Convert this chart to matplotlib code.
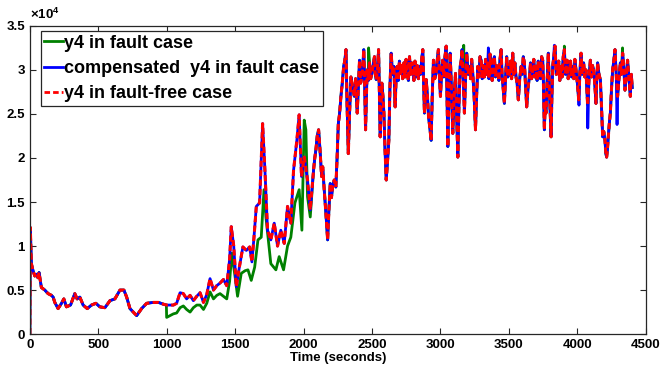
import numpy as np
import matplotlib
matplotlib.use('Agg')
import matplotlib.pyplot as plt
from matplotlib.ticker import FuncFormatter, MultipleLocator

plt.rcParams['font.family'] = ['Liberation Sans', 'DejaVu Sans']
plt.rcParams['font.weight'] = 'bold'
plt.rcParams['mathtext.fontset'] = 'custom'
plt.rcParams['mathtext.rm'] = 'Liberation Sans:bold'
plt.rcParams['mathtext.it'] = 'Liberation Sans:bold'
plt.rcParams['mathtext.bf'] = 'Liberation Sans:bold'

# values, y in units of 1e4
# start part, all three series equal (0 - 1000 s)
t_start = [1, 4, 12, 24, 37, 49, 60, 68, 85, 110, 134, 159, 171, 183, 207, 232, 249,
           268, 298, 329, 346, 366, 390, 420, 451, 483, 512, 549, 586, 622, 659, 688,
           708, 732, 781, 817, 854, 903, 940, 976, 998]
y_start = [0.0, 1.21, 0.80, 0.72, 0.66, 0.68, 0.64, 0.70, 0.53, 0.50, 0.46, 0.44, 0.42,
           0.36, 0.29, 0.35, 0.40, 0.31, 0.33, 0.46, 0.40, 0.42, 0.33, 0.29, 0.33, 0.35,
           0.31, 0.30, 0.38, 0.40, 0.50, 0.50, 0.42, 0.29, 0.21, 0.29, 0.35, 0.36, 0.36,
           0.34, 0.33]

# fault-free case, 1000 - 2060 s
t_ff_mid = [1000, 1025, 1049, 1073, 1098, 1122, 1146, 1171, 1195, 1220, 1244, 1269, 1293,
            1317, 1342, 1366, 1390, 1415, 1439, 1460, 1472, 1490, 1509, 1530, 1557, 1582,
            1606, 1623, 1638, 1655, 1679, 1701, 1718, 1737, 1761, 1786, 1810, 1834, 1859,
            1883, 1907, 1927, 1951, 1968, 1985, 2005, 2029, 2049]
y_ff_mid = [0.33, 0.33, 0.33, 0.35, 0.47, 0.46, 0.40, 0.44, 0.38, 0.43, 0.47, 0.36, 0.45,
            0.63, 0.50, 0.55, 0.58, 0.62, 0.55, 0.85, 1.22, 1.00, 0.54, 0.75, 0.99, 0.95,
            0.99, 0.82, 1.10, 1.45, 1.49, 2.39, 1.86, 1.18, 1.07, 1.26, 1.00, 1.18, 1.03,
            1.45, 1.26, 1.86, 2.20, 2.49, 1.79, 2.01, 1.75, 1.41]

# fault case, 1000 - 2060 s
t_fault_mid = [1000, 1025, 1049, 1073, 1098, 1122, 1146, 1171, 1195, 1220, 1244, 1269, 1293,
               1317, 1342, 1366, 1390, 1415, 1439, 1460, 1476, 1500, 1518, 1545, 1573, 1594,
               1618, 1643, 1667, 1691, 1711, 1725, 1761, 1798, 1822, 1854, 1883, 1907, 1937,
               1968, 1988, 2005, 2017, 2029, 2049]
y_fault_mid = [0.19, 0.21, 0.23, 0.24, 0.30, 0.32, 0.28, 0.25, 0.30, 0.33, 0.33, 0.28, 0.35,
               0.48, 0.40, 0.44, 0.46, 0.43, 0.40, 0.60, 0.92, 0.65, 0.43, 0.69, 0.72, 0.73,
               0.61, 0.76, 1.07, 1.10, 1.64, 1.33, 0.80, 0.73, 0.88, 0.73, 1.00, 1.10, 1.49,
               1.64, 1.18, 2.43, 2.32, 1.56, 1.33]

# end part, all three series nearly equal (2060 - 4400 s)
t_end = [2073, 2082, 2090, 2100, 2110, 2120, 2132, 2140, 2151, 2162, 2176, 2185, 2195, 2204,
         2212, 2224, 2236, 2245, 2254, 2263, 2273, 2283, 2293, 2301, 2310, 2318, 2327, 2336,
         2346, 2358, 2371, 2380, 2392, 2400, 2409, 2417, 2426, 2433, 2440, 2447, 2453, 2459,
         2465, 2473, 2482, 2490, 2499, 2508, 2518, 2524, 2531, 2540, 2548, 2554, 2560, 2566,
         2572, 2580, 2587, 2595, 2604, 2613, 2623, 2631, 2640, 2650, 2660, 2669, 2676, 2684,
         2692, 2700, 2708, 2716, 2724, 2733, 2741, 2749, 2757, 2766, 2774, 2782, 2790, 2798,
         2806, 2814, 2822, 2830, 2839, 2847, 2855, 2863, 2871, 2877, 2883, 2890, 2896, 2905,
         2913, 2922, 2932, 2940, 2949, 2958, 2968, 2976, 2985, 2992, 3000, 3008, 3017, 3025,
         3033, 3042, 3048, 3054, 3062, 3071, 3080, 3090, 3100, 3110, 3118, 3127, 3135, 3144,
         3151, 3158, 3166, 3175, 3183, 3192, 3202, 3212, 3220, 3228, 3236, 3246, 3256, 3264,
         3273, 3281, 3289, 3297, 3305, 3313, 3321, 3330, 3338, 3346, 3354, 3362, 3370, 3378,
         3386, 3394, 3402, 3410, 3419, 3427, 3435, 3443, 3450, 3458, 3467, 3475, 3484, 3492,
         3504, 3512, 3520, 3528, 3536, 3544, 3552, 3560, 3569, 3579, 3589, 3597, 3605, 3613,
         3621, 3630, 3640, 3650, 3658, 3666, 3674, 3682, 3690, 3698, 3706, 3714, 3723, 3731,
         3739, 3747, 3753, 3759, 3765, 3771, 3780, 3788, 3796, 3802, 3808, 3814, 3820, 3828,
         3837, 3846, 3856, 3864, 3872, 3881, 3889, 3897, 3905, 3913, 3920, 3925, 3933, 3942,
         3950, 3958, 3966, 3974, 3982, 3990, 4000, 4010, 4018, 4027, 4035, 4046, 4054, 4063,
         4069, 4075, 4085, 4095, 4103, 4111, 4119, 4127, 4136, 4142, 4148, 4158, 4168, 4176,
         4185, 4193, 4202, 4208, 4214, 4220, 4226, 4234, 4241, 4250, 4258, 4266, 4275, 4284,
         4294, 4304, 4314, 4322, 4331, 4340, 4348, 4358, 4367, 4377, 4387, 4394, 4401]
y_end = [1.86, 2.00, 2.09, 2.25, 2.32, 2.10, 1.79, 1.90, 1.64, 1.40, 1.07, 1.40, 1.71, 1.55,
         1.67, 1.75, 1.67, 2.00, 2.39, 2.50, 2.70, 2.85, 3.04, 3.10, 3.23, 2.60, 2.05, 2.50,
         2.92, 2.80, 2.70, 2.90, 2.51, 2.80, 3.11, 2.85, 2.92, 3.05, 3.23, 2.80, 2.32, 2.70,
         3.00, 2.88, 3.08, 2.90, 2.96, 3.05, 3.15, 2.95, 2.89, 3.00, 3.23, 2.75, 2.24, 2.60,
         2.85, 2.70, 2.51, 2.10, 1.75, 1.95, 2.20, 2.80, 3.19, 2.95, 3.04, 2.58, 2.90, 3.04,
         2.88, 3.10, 2.96, 3.05, 2.90, 3.08, 2.92, 3.12, 2.96, 2.88, 3.15, 2.95, 3.08, 3.00,
         2.88, 3.10, 2.92, 3.05, 2.90, 3.04, 2.95, 3.12, 3.23, 2.85, 2.51, 2.75, 2.89, 2.70,
         2.47, 2.35, 2.20, 2.70, 3.11, 2.90, 2.96, 3.10, 3.23, 2.95, 2.70, 2.95, 3.11, 2.92,
         3.15, 3.27, 2.70, 2.13, 2.70, 3.19, 2.80, 2.28, 2.70, 2.96, 2.50, 2.01, 2.60, 3.04,
         3.10, 3.23, 2.90, 2.51, 2.90, 3.19, 2.95, 3.04, 2.90, 3.12, 2.96, 2.70, 2.32, 2.70,
         3.04, 2.92, 3.15, 3.11, 2.90, 3.05, 2.92, 3.12, 2.95, 3.08, 2.90, 3.18, 2.96, 2.88,
         3.10, 3.15, 2.92, 3.05, 3.00, 2.88, 3.12, 3.23, 2.95, 2.80, 2.62, 2.90, 3.15, 2.92,
         2.96, 3.10, 2.90, 3.19, 2.95, 3.08, 2.92, 2.85, 2.66, 2.90, 3.04, 2.95, 3.15, 3.08,
         2.85, 2.58, 2.80, 2.92, 3.08, 2.90, 3.00, 3.12, 2.92, 3.04, 2.88, 3.10, 3.00, 2.90,
         3.15, 3.11, 2.80, 2.32, 2.60, 2.51, 2.90, 3.19, 2.77, 2.50, 2.24, 2.70, 3.04, 3.15,
         3.27, 2.95, 2.96, 3.10, 2.88, 3.04, 2.92, 3.15, 3.23, 2.95, 3.05, 3.11, 2.90, 2.96,
         3.10, 2.92, 3.04, 2.90, 3.12, 3.00, 2.85, 2.66, 2.95, 3.19, 2.95, 3.08, 2.92, 3.00,
         2.80, 2.60, 2.90, 3.11, 2.92, 3.05, 3.00, 2.85, 2.62, 2.90, 3.08, 2.95, 2.89, 2.60,
         2.24, 2.30, 2.20, 2.05, 2.01, 2.10, 2.24, 2.40, 2.51, 2.80, 3.00, 3.10, 3.23, 2.95,
         2.70, 2.90, 3.08, 2.95, 3.19, 3.00, 2.77, 2.95, 3.11, 2.90, 2.70, 2.95, 2.80]

# where the compensated / fault curves leave the fault-free one in the end part
t_comp_extra = [3350, 3832, 4012, 4076, 4290]
y_comp_extra = [3.25, 3.28, 2.60, 2.34, 2.38]
t_fault_extra = [2475, 3170, 3905, 4330]
y_fault_extra = [3.25, 3.28, 3.27, 3.25]


def build(*parts):
    t = np.concatenate([np.asarray(p[0], float) for p in parts])
    y = np.concatenate([np.asarray(p[1], float) for p in parts])
    order = np.argsort(t, kind='stable')
    return t[order], y[order] * 1e4


t_ff, y_ff = build((t_start, y_start), (t_ff_mid, y_ff_mid), (t_end, y_end))
t_comp, y_comp = build((t_start, y_start), (t_ff_mid, y_ff_mid), (t_end, y_end),
                       (t_comp_extra, y_comp_extra))
t_fault, y_fault = build((t_start, y_start), (t_fault_mid, y_fault_mid), (t_end, y_end),
                         (t_fault_extra, y_fault_extra))

fig = plt.figure(figsize=(6.61, 3.75), dpi=100)
ax = fig.add_axes([0.045, 0.109, 0.932, 0.822])

ax.plot(t_fault, y_fault, color='#008000', lw=2.0, label='y4 in fault case')
ax.plot(t_comp, y_comp, color='#0000ff', lw=2.0, label='compensated  y4 in fault case')
ax.plot(t_ff, y_ff, color='#ff0000', lw=2.2, ls='--', dashes=(2.0, 1.1),
        label='y4 in fault-free case')

ax.set_xlim(0, 4500)
ax.set_ylim(0, 35000)
ax.xaxis.set_major_locator(MultipleLocator(500))
ax.yaxis.set_major_locator(MultipleLocator(5000))
ax.yaxis.set_major_formatter(FuncFormatter(lambda v, p: '%g' % (v / 1e4)))
ax.tick_params(direction='in', top=True, right=True, labelsize=9.5, length=4,
               width=0.8, colors='#262626', labelcolor='black')
for lab in ax.get_xticklabels() + ax.get_yticklabels():
    lab.set_fontweight('bold')
for s in ax.spines.values():
    s.set_linewidth(0.9)
    s.set_color('#262626')

ax.set_xlabel('Time (seconds)', fontsize=9.5, fontweight='bold', labelpad=1)
ax.text(0.0, 1.012, '×10$^{4}$', transform=ax.transAxes, fontsize=9.5,
        fontweight='bold', ha='left', va='bottom')

leg = ax.legend(loc='upper left', bbox_to_anchor=(0.018, 0.983),
                prop={'weight': 'bold', 'size': 13}, handlelength=1.0,
                handletextpad=0.1, borderpad=0.2, labelspacing=0.45,
                borderaxespad=0, fancybox=False, framealpha=1)
leg.get_frame().set_edgecolor('#262626')
leg.get_frame().set_linewidth(0.9)
for h in leg.get_lines():
    h.set_linewidth(2.0)

fig.savefig('out.png', dpi=100)
